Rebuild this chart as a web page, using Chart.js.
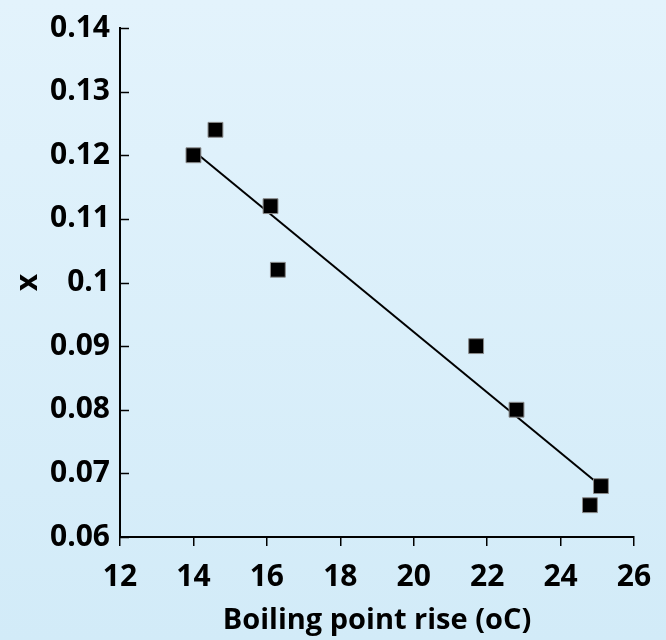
<!DOCTYPE html>
<html>
<head>
<meta charset="utf-8">
<script src="https://cdn.jsdelivr.net/npm/chart.js@4/dist/chart.umd.min.js"></script>
<style>
  html, body { margin: 0; padding: 0; }
  #wrap { width: 666px; height: 640px; }
</style>
</head>
<body>
<div id="wrap"><canvas id="chart"></canvas></div>
<script>
// data
const boilingRise = [14.0, 14.6, 16.1, 16.3, 21.7, 22.8, 24.8, 25.1];
const xValues = [0.120, 0.124, 0.112, 0.102, 0.090, 0.080, 0.065, 0.068];
const fitRise = [14.0, 25.1];
const fitX = [0.1207, 0.068];
const xTicks = [12, 14, 16, 18, 20, 22, 24, 26];
const yTicks = [0.06, 0.07, 0.08, 0.09, 0.1, 0.11, 0.12, 0.13, 0.14];

const FONT = "'Open Sans', sans-serif";

// light blue gradient behind everything
const bgPlugin = {
  id: "bg",
  beforeDraw(chart) {
    const ctx = chart.ctx;
    const g = ctx.createLinearGradient(0, 0, 0, chart.height);
    g.addColorStop(0, "#e3f3fc");
    g.addColorStop(1, "#d2ebf8");
    ctx.save();
    ctx.fillStyle = g;
    ctx.fillRect(0, 0, chart.width, chart.height);
    ctx.restore();
  },
};

// y ticks point inward (to the right of the axis)
const innerTicks = {
  id: "innerTicks",
  afterDatasetsDraw(chart) {
    const y = chart.scales.y;
    const ctx = chart.ctx;
    ctx.save();
    ctx.strokeStyle = "#000";
    ctx.lineWidth = 1.5;
    yTicks.forEach((v) => {
      const py = Math.round(y.getPixelForValue(v)) + 0.5;
      ctx.beginPath();
      ctx.moveTo(y.right, py);
      ctx.lineTo(y.right + 9, py);
      ctx.stroke();
    });
    ctx.restore();
  },
};

new Chart(document.getElementById("chart"), {
  type: "scatter",
  data: {
    datasets: [
      {
        label: "x",
        data: boilingRise.map((b, i) => ({ x: b, y: xValues[i] })),
        pointStyle: "rect",
        pointRadius: 10.5,
        pointHoverRadius: 10.5,
        backgroundColor: "#000",
        borderColor: "#8a8a8a",
        borderWidth: 1,
        order: 1,
      },
      {
        label: "fit",
        type: "line",
        data: fitRise.map((b, i) => ({ x: b, y: fitX[i] })),
        borderColor: "#000",
        borderWidth: 2,
        pointRadius: 0,
        fill: false,
        order: 2,
      },
    ],
  },
  options: {
    responsive: true,
    maintainAspectRatio: false,
    animation: false,
    layout: { padding: { top: 23, right: 32, bottom: 2, left: 10 } },
    plugins: {
      legend: { display: false },
      tooltip: { enabled: false },
    },
    scales: {
      x: {
        type: "linear",
        min: 12,
        max: 26,
        afterBuildTicks: (s) => { s.ticks = xTicks.map((v) => ({ value: v })); },
        afterFit: (s) => { s.height = 101; },
        border: { display: true, color: "#000", width: 2 },
        grid: { drawOnChartArea: false, drawTicks: true, tickLength: 9, color: "#000", lineWidth: 1.5 },
        ticks: { color: "#000", padding: 13, font: { family: FONT, size: 30, weight: "bold" }, maxRotation: 0 },
        title: {
          display: true,
          text: "Boiling point rise (oC)",
          color: "#000",
          padding: { top: 0, bottom: 0 },
          font: { family: FONT, size: 29, weight: "bold" },
        },
      },
      y: {
        type: "linear",
        min: 0.06,
        max: 0.14,
        afterBuildTicks: (s) => { s.ticks = yTicks.map((v) => ({ value: v })); },
        afterFit: (s) => { s.width = 110; },
        border: { display: true, color: "#000", width: 2 },
        grid: { display: false, drawTicks: false },
        ticks: {
          color: "#000",
          padding: 10,
          font: { family: FONT, size: 30, weight: "bold" },
          callback: (v) => String(Math.round(v * 100) / 100),
        },
        title: {
          display: true,
          text: "x",
          color: "#000",
          padding: { top: 0, bottom: 0 },
          font: { family: FONT, size: 30, weight: "bold" },
        },
      },
    },
  },
  plugins: [bgPlugin, innerTicks],
});
</script>
</body>
</html>
